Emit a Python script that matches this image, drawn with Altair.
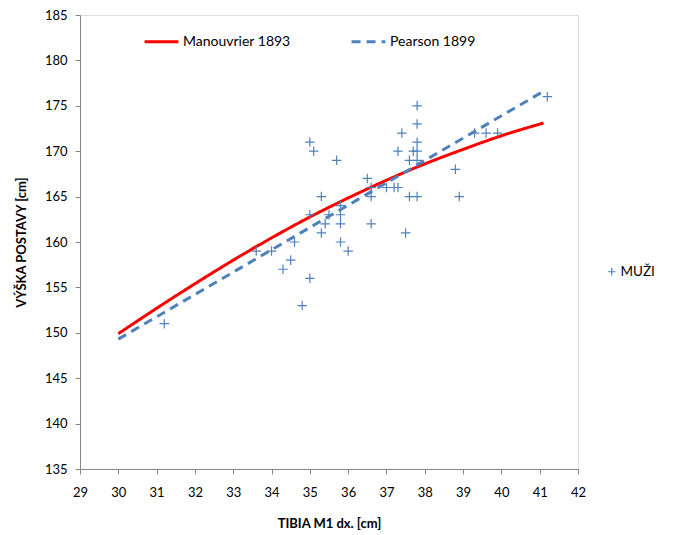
import altair as alt
import pandas as pd

# scatter data (MUŽI)
tibia = [31.2, 33.6, 34.0, 34.3, 34.5, 34.6, 34.8, 35.0, 35.0, 35.0, 35.1, 35.3, 35.3, 35.4, 35.5,
         35.7, 35.8, 35.8, 35.8, 35.8, 36.0, 36.5, 36.6, 36.6, 36.6, 37.0, 37.2, 37.3, 37.3, 37.4,
         37.5, 37.6, 37.6, 37.7, 37.8, 37.8, 37.8, 37.8, 37.8, 37.8, 38.8, 38.9, 39.3, 39.6, 39.9, 41.2]
stature = [151, 159, 159, 157, 158, 160, 153, 156, 163, 171, 170, 165, 161, 162, 163,
           169, 164, 163, 162, 160, 159, 167, 166, 165, 162, 166, 166, 166, 170, 172,
           161, 169, 165, 170, 175, 173, 171, 170, 169, 165, 168, 165, 172, 172, 172, 176]

# Manouvrier 1893 curve
man_x = [30.0, 31.0, 32.0, 33.0, 34.0, 35.0, 36.0, 37.0, 38.0, 39.0, 40.0, 41.1]
man_y = [149.9, 152.7, 155.4, 158.0, 160.45, 162.75, 164.85, 166.8, 168.6, 170.2, 171.7, 173.1]

# Pearson 1899 line
pea_x = [30.0, 41.1]
pea_y = [149.3, 176.6]

series = ["Manouvrier 1893", "Pearson 1899"]

pts = pd.DataFrame({"x": tibia, "y": stature, "s": "MUŽI"})
lines = pd.DataFrame({
    "x": man_x + pea_x,
    "y": man_y + pea_y,
    "series": [series[0]] * len(man_x) + [series[1]] * len(pea_x),
})

FONT = "Lato"
xscale = alt.Scale(domain=[29, 42], nice=False, zero=False)
yscale = alt.Scale(domain=[135, 185], nice=False, zero=False)

xaxis = alt.Axis(title="TIBIA M1 dx. [cm]", values=list(range(29, 43)), grid=False,
                 tickSize=5, labelPadding=12, titlePadding=18, labelFontSize=13,
                 titleFontSize=13, titleFontWeight="bold", labelFont=FONT, titleFont=FONT,
                 domainColor="#868686", tickColor="#868686", labelColor="#000000",
                 titleColor="#000000", labelFlush=False, labelOverlap=False,
                 labelSeparation=0)
yaxis = alt.Axis(title="VÝŠKA POSTAVY [cm]", values=list(range(135, 186, 5)), grid=False,
                 tickSize=5, labelPadding=8, titlePadding=16, labelFontSize=13,
                 titleFontSize=13, titleFontWeight="bold", labelFont=FONT, titleFont=FONT,
                 domainColor="#868686", tickColor="#868686", labelColor="#000000",
                 titleColor="#000000", labelFlush=False, labelOverlap=False)

line_legend = alt.Legend(title=None, orient="none", legendX=63, legendY=8,
                         direction="horizontal", columns=2, columnPadding=54,
                         symbolType="stroke", symbolSize=1150, symbolStrokeWidth=3,
                         labelFont=FONT, labelFontSize=14, labelColor="#000000",
                         labelOffset=3)

line_layer = alt.Chart(lines).mark_line(strokeWidth=3, interpolate="monotone").encode(
    x=alt.X("x:Q", scale=xscale, axis=xaxis),
    y=alt.Y("y:Q", scale=yscale, axis=yaxis),
    color=alt.Color("series:N",
                    scale=alt.Scale(domain=series, range=["#FF0000", "#4F81BD"]),
                    legend=line_legend),
    strokeDash=alt.StrokeDash("series:N",
                              scale=alt.Scale(domain=series, range=[[1, 0], [9, 6]]),
                              legend=line_legend),
    detail="series:N",
)

pt_layer = alt.Chart(pts).mark_point(filled=False, strokeWidth=1.2, size=90, opacity=1).encode(
    x=alt.X("x:Q", scale=xscale, axis=xaxis),
    y=alt.Y("y:Q", scale=yscale, axis=yaxis),
    color=alt.value("#4F81BD"),
    shape=alt.Shape("s:N",
                    scale=alt.Scale(domain=["MUŽI"], range=["M-1,0L1,0M0,-1L0,1"]),
                    legend=alt.Legend(title=None, orient="none", legendX=525, legendY=250,
                                      symbolSize=55, symbolStrokeColor="#4F81BD",
                                      symbolStrokeWidth=1.2, labelFont=FONT, labelFontSize=13.5,
                                      labelColor="#000000", labelOffset=2)),
)

chart = alt.layer(line_layer, pt_layer).properties(
    width=498, height=454,
    autosize=alt.AutoSizeParams(type="none"),
    padding={"left": 72, "top": 7, "right": 87, "bottom": 64},
).configure_view(stroke=None).configure(background="white")

chart.save("out.html", embed_options={"renderer": "svg", "actions": False})
